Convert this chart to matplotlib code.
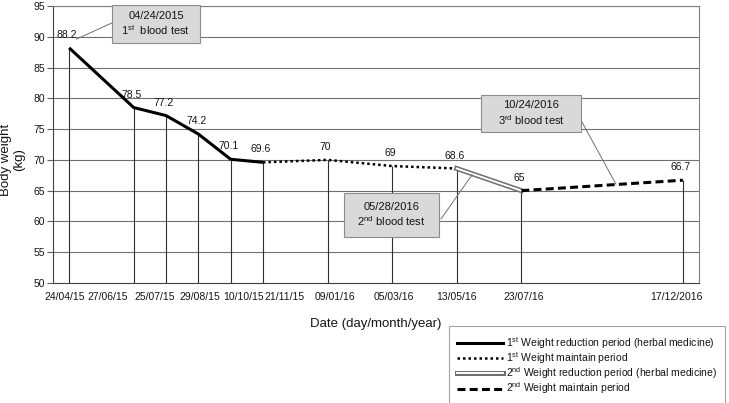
import numpy as np
import matplotlib
matplotlib.use("Agg")
import matplotlib.pyplot as plt
import matplotlib.patheffects as pe
from matplotlib.patches import Rectangle
from matplotlib.lines import Line2D

plt.rcParams['font.family'] = ['Liberation Sans', 'DejaVu Sans']
plt.rcParams['mathtext.fontset'] = 'custom'
plt.rcParams['mathtext.rm'] = 'Liberation Sans'

# category slots of the x axis ('' = empty slot)
date_slots = ['24/04/15', '', '27/06/15', '25/07/15', '29/08/15', '10/10/15',
              '21/11/15', '', '09/01/16', '', '05/03/16', '', '13/05/16', '',
              '23/07/16', '', '', '', '', '17/12/2016']
weight_slots = [88.2, None, 78.5, 77.2, 74.2, 70.1, 69.6, None, 70, None, 69,
                None, 68.6, None, 65, None, None, None, None, 66.7]

# periods: (first date, last date)
period_r1 = ('24/04/15', '21/11/15')
period_m1 = ('21/11/15', '13/05/16')
period_r2 = ('13/05/16', '23/07/16')
period_m2 = ('23/07/16', '17/12/2016')

legend_labels = [r'1$^{\mathrm{st}}$ Weight reduction period (herbal medicine)',
                 r'1$^{\mathrm{st}}$ Weight maintain period',
                 r'2$^{\mathrm{nd}}$ Weight reduction period (herbal medicine)',
                 r'2$^{\mathrm{nd}}$ Weight maintain period']

notes = [('04/24/2015', r'1$^{\mathrm{st}}$  blood test'),
         ('05/28/2016', r'2$^{\mathrm{nd}}$ blood test'),
         ('10/24/2016', r'3$^{\mathrm{rd}}$ blood test')]

x_all = np.arange(len(date_slots))
w_all = np.array([np.nan if v is None else v for v in weight_slots])
mask = ~np.isnan(w_all)
xs, ws = x_all[mask], w_all[mask]
labels = [d for d in date_slots if d]
TXT = '#151515'


def seg(period):
    a, b = date_slots.index(period[0]), date_slots.index(period[1])
    m = (xs >= a) & (xs <= b)
    return xs[m], ws[m]


fig = plt.figure(figsize=(7.29, 4.03), dpi=100)
ax = fig.add_axes([0.0727, 0.2978, 0.8861, 0.6873])
ax.set_xlim(-0.5, len(date_slots) - 0.5)
ax.set_ylim(50, 95)
ax.set_yticks(np.arange(50, 96, 5))
for y in np.arange(55, 96, 5):
    ax.axhline(y, color='#707070', lw=0.8, zorder=1)

ax.vlines(xs, 50, ws, color='#303030', lw=0.8, zorder=1)

x, y = seg(period_r1)
ax.plot(x, y, color='black', lw=2.2, solid_capstyle='butt', zorder=3)
x, y = seg(period_m1)
ax.plot(x, y, color='black', lw=1.8, linestyle=(0, (1, 1.2)), zorder=3)
x, y = seg(period_r2)
dbl = [pe.Stroke(linewidth=3.6, foreground='#6e6e6e'), pe.Normal()]
ax.plot(x, y, color='white', lw=1.4, path_effects=dbl, zorder=3)
x, y = seg(period_m2)
ax.plot(x, y, color='black', lw=2.2, linestyle=(0, (2.6, 1.4)), zorder=3)

for xi, wi in zip(xs, ws):
    ax.annotate(f'{wi:g}', (xi, wi), xytext=(-2, 13), textcoords='offset pixels',
                ha='center', va='center', fontsize=7.5, color=TXT)

# date labels, spread apart by hand as in the original figure
shifts = [-4, -26, -11, 1, 13, 22, 7, 2, 0, 2, -6]
ax.set_xticks([])
for xi, lab, dx in zip(xs, labels, shifts):
    ax.annotate(lab, (xi, 0), xycoords=('data', 'axes fraction'),
                xytext=(dx, -9), textcoords='offset pixels', ha='center',
                va='top', fontsize=7.5, color=TXT)

ax.tick_params(axis='y', length=4, color='#606060', labelsize=7.5,
               labelcolor=TXT, pad=2)
for s in ['left', 'bottom']:
    ax.spines[s].set_color('#404040')
for s in ['top', 'right']:
    ax.spines[s].set_color('#808080')

ax.set_xlabel('Date (day/month/year)', fontsize=9.5, color=TXT, labelpad=25)
ax.set_ylabel('Body weight\n(kg)', fontsize=9.5, color=TXT, linespacing=1.1)
ax.yaxis.set_label_coords(-0.043, 0.444)

# blood test boxes (axes fraction) and leader targets (data)
boxes = [(0.0913, 0.866, 0.1363, 0.137), (0.4505, 0.166, 0.147, 0.159),
         (0.6625, 0.545, 0.1548, 0.1337)]
leaders = [((0.0913, 0.939), (0.22, 89.6)), ((0.6006, 0.231), (12.48, 67.6)),
           ((0.8173, 0.588), (16.93, 66.05))]
for (bx, by, bw, bh), (d, t), (start, end) in zip(boxes, notes, leaders):
    ax.add_patch(Rectangle((bx, by), bw, bh, transform=ax.transAxes,
                           facecolor='#d9d9d9', edgecolor='#8c8c8c', lw=0.8,
                           zorder=5, clip_on=False))
    ax.text(bx + bw / 2, by + bh / 2, d + '\n' + t, transform=ax.transAxes,
            ha='center', va='center', fontsize=8, linespacing=1.2,
            color=TXT, zorder=6)
    ax.annotate('', xy=end, xycoords='data', xytext=start, textcoords='axes fraction',
                arrowprops=dict(arrowstyle='-', color='#707070', lw=0.7,
                                shrinkA=0, shrinkB=0), zorder=4)

handles = [Line2D([], [], color='black', lw=2.2),
           Line2D([], [], color='black', lw=1.8, linestyle=(0, (1, 1.2))),
           Line2D([], [], color='white', lw=1.4, path_effects=dbl),
           Line2D([], [], color='black', lw=2.2, linestyle=(0, (2.6, 1.4)))]
leg = fig.legend(handles, legend_labels, loc='upper right',
                 bbox_to_anchor=(0.995, 0.19), fontsize=7.5, frameon=True,
                 fancybox=False, edgecolor='#8c8c8c', handlelength=4.4,
                 handletextpad=0.3, labelspacing=-0.05, borderpad=0.8,
                 borderaxespad=0, labelcolor=TXT)
leg.get_frame().set_linewidth(0.8)

fig.savefig('out.png', dpi=100)
